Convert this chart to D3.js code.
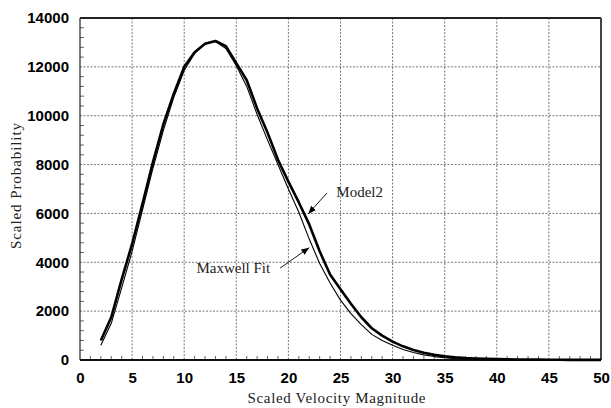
<!DOCTYPE html>
<html>
<head>
<meta charset="utf-8">
<script src="https://cdn.jsdelivr.net/npm/d3@7"></script>
<style>
  html, body { margin: 0; padding: 0; background: #fff; }
  svg { display: block; }
</style>
</head>
<body>
<svg id="chart" width="611" height="408"></svg>
<script>
// ---- data ----
const velocity = [2,3,4,5,6,7,8,9,10,11,12,13,14,15,16,17,18,19,20,21,22,23,24,25,26,27,28,29,30,31,32,33,34,35,36,37,38,39,40,41,42,43,44,45,46,47,48,49,50];
const model2 = [800,1750,3300,4750,6400,8100,9650,10900,12000,12600,12950,13060,12850,12150,11450,10300,9300,8200,7300,6450,5550,4450,3500,2900,2300,1750,1300,1000,750,560,410,300,210,150,110,80,60,45,35,28,22,18,14,11,9,7,6,5,4];
const maxwellFit = [600,1500,2950,4450,6150,7850,9400,10750,11850,12550,12950,13040,12750,12050,11200,10050,9000,8000,7000,6050,4950,3950,3150,2450,1900,1450,1050,800,600,430,310,210,140,90,55,35,20,12,8,5,3,2,1,1,0,0,0,0,0];
const xTicks = [0,5,10,15,20,25,30,35,40,45,50];
const yTicks = [0,2000,4000,6000,8000,10000,12000,14000];
const xLabel = "Scaled Velocity Magnitude";
const yLabel = "Scaled Probability";
const annotations = [
  {text: "Model2", tx: 24.6, ty: 6880, anchor: "start", x1: 23.7, y1: 6840, x2: 21.9, y2: 5980},
  {text: "Maxwell Fit", tx: 18.25, ty: 3780, anchor: "end", x1: 19.2, y1: 3760, x2: 22.0, y2: 4600}
];

// ---- layout ----
const svg = d3.select("#chart");
const L = 80, R = 601, T = 18, B = 360;
const x = d3.scaleLinear().domain([0, 50]).range([L, R]);
const y = d3.scaleLinear().domain([0, 14000]).range([B, T]);

// grid
const grid = svg.append("g");
grid.selectAll("line.vg").data(xTicks.slice(1, -1)).join("line")
  .attr("x1", d => x(d)).attr("x2", d => x(d)).attr("y1", T).attr("y2", B)
  .attr("stroke", "#777").attr("stroke-width", 1).attr("stroke-dasharray", "2,1.5");
grid.selectAll("line.hg").data(yTicks.slice(1, -1)).join("line")
  .attr("y1", d => y(d)).attr("y2", d => y(d)).attr("x1", L).attr("x2", R)
  .attr("stroke", "#777").attr("stroke-width", 1).attr("stroke-dasharray", "2,1.5");

// minor ticks (inward)
const xMinor = d3.range(1, 50).filter(v => v % 5 !== 0);
svg.append("g").selectAll("line").data(xMinor).join("line")
  .attr("x1", d => x(d)).attr("x2", d => x(d)).attr("y1", B).attr("y2", B - 4)
  .attr("stroke", "#666").attr("stroke-width", 1);
const yMinor = d3.range(400, 14000, 400).filter(v => v % 2000 !== 0);
svg.append("g").selectAll("line").data(yMinor).join("line")
  .attr("y1", d => y(d)).attr("y2", d => y(d)).attr("x1", L).attr("x2", L + 4)
  .attr("stroke", "#666").attr("stroke-width", 1);

// frame
svg.append("line").attr("x1", L).attr("x2", R).attr("y1", T).attr("y2", T).attr("stroke", "#222").attr("stroke-width", 2);
svg.append("line").attr("x1", R).attr("x2", R).attr("y1", T).attr("y2", B).attr("stroke", "#444").attr("stroke-width", 2);
svg.append("line").attr("x1", L).attr("x2", L).attr("y1", T).attr("y2", B).attr("stroke", "#222").attr("stroke-width", 1.2);

// axes labels via d3 axes
const xAxis = svg.append("g").attr("transform", `translate(0,${B})`)
  .call(d3.axisBottom(x).tickValues(xTicks).tickSize(0).tickPadding(12).tickFormat(d3.format("d")));
xAxis.select(".domain").remove();
xAxis.selectAll("text").attr("font-family", "Liberation Sans, Arial, sans-serif")
  .attr("font-weight", "bold").attr("font-size", "15px").attr("fill", "#000");
const yAxis = svg.append("g").attr("transform", `translate(${L},0)`)
  .call(d3.axisLeft(y).tickValues(yTicks).tickSize(0).tickPadding(11).tickFormat(d3.format("d")));
yAxis.select(".domain").remove();
yAxis.selectAll("text").attr("font-family", "Liberation Sans, Arial, sans-serif")
  .attr("font-weight", "bold").attr("font-size", "15px").attr("fill", "#000");

// bottom frame on top
svg.append("line").attr("x1", L).attr("x2", R).attr("y1", B).attr("y2", B).attr("stroke", "#111").attr("stroke-width", 2.2);

// curves
const line = d3.line().x((d, i) => x(velocity[i])).y(d => y(d));
svg.append("path").datum(maxwellFit).attr("d", line)
  .attr("fill", "none").attr("stroke", "#000").attr("stroke-width", 1.1).attr("stroke-linejoin", "round");
svg.append("path").datum(model2).attr("d", line)
  .attr("fill", "none").attr("stroke", "#000").attr("stroke-width", 2.6).attr("stroke-linejoin", "round");

// titles
svg.append("text").attr("x", (L + R) / 2 - 4).attr("y", 403).attr("text-anchor", "middle")
  .attr("font-family", "Liberation Serif, serif").attr("font-size", "15px").attr("fill", "#222")
  .attr("textLength", 178).text(xLabel);
svg.append("text").attr("transform", `translate(21,${(T + B) / 2 - 3}) rotate(-90)`).attr("text-anchor", "middle")
  .attr("font-family", "Liberation Serif, serif").attr("font-size", "15px").attr("fill", "#222")
  .attr("textLength", 126).text(yLabel);

// annotations
const defs = svg.append("defs");
defs.append("marker").attr("id", "arrow").attr("viewBox", "0 0 10 10").attr("refX", 10).attr("refY", 5)
  .attr("markerWidth", 8).attr("markerHeight", 8).attr("markerUnits", "userSpaceOnUse").attr("orient", "auto")
  .append("path").attr("d", "M0,1 L10,5 L0,9 Z").attr("fill", "#000");
const ann = svg.append("g");
annotations.forEach(a => {
  ann.append("line").attr("x1", x(a.x1)).attr("y1", y(a.y1)).attr("x2", x(a.x2)).attr("y2", y(a.y2))
    .attr("stroke", "#000").attr("stroke-width", 0.9).attr("marker-end", "url(#arrow)");
  ann.append("text").attr("x", x(a.tx)).attr("y", y(a.ty)).attr("dy", "0.35em").attr("text-anchor", a.anchor)
    .attr("font-family", "Liberation Serif, serif").attr("font-size", "15px").attr("fill", "#222").text(a.text);
});
</script>
</body>
</html>
